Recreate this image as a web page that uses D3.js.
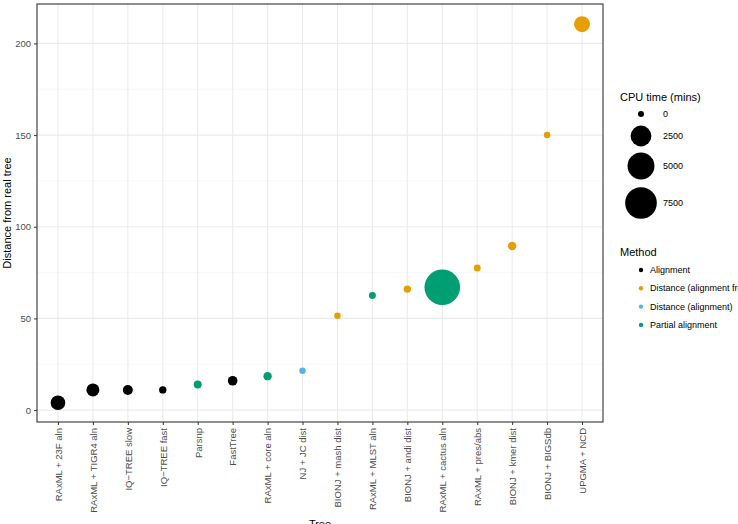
<html>
<head>
<script src="https://d3js.org/d3.v7.min.js"></script>
<style>
  body { margin: 0; background: #fff; }
  svg { font-family: "Liberation Sans", Arial, sans-serif; }
</style>
</head>
<body>
<svg id="svg" width="738" height="524"></svg>
<script>
var trees = ["RAxML + 23F aln", "RAxML + TIGR4 aln", "IQ\u2212TREE slow", "IQ\u2212TREE fast", "Parsnp", "FastTree",
  "RAxML + core aln", "NJ + JC dist", "BIONJ + mash dist", "RAxML + MLST aln", "BIONJ + andi dist",
  "RAxML + cactus aln", "RAxML + pres/abs", "BIONJ + kmer dist", "BIONJ + BIGSdb", "UPGMA + NCD"];
var distances = [4, 11, 11, 11, 14, 16, 18.5, 21.5, 51.5, 62.5, 66, 67, 77.5, 89.5, 150, 210.5];
var cpuTimes = [850, 560, 180, 22, 46, 148, 66, 3, 3, 11, 22, 10000, 11, 66, 3, 1140];
var methods = ["Alignment", "Alignment", "Alignment", "Alignment", "Partial alignment", "Alignment",
  "Partial alignment", "Distance (alignment)", "Distance (alignment free)", "Partial alignment",
  "Distance (alignment free)", "Partial alignment", "Distance (alignment free)", "Distance (alignment free)",
  "Distance (alignment free)", "Distance (alignment free)"];
var methodNames = ["Alignment", "Distance (alignment free)", "Distance (alignment)", "Partial alignment"];
var methodColors = ["#000000", "#E69F00", "#56B4E9", "#009E73"];
var sizeBreaks = [0, 2500, 5000, 7500];
var yTicks = [0, 50, 100, 150, 200];

var svg = d3.select("svg");
var pLeft = 37, pRight = 603, pTop = 4, pBottom = 422;

var x = d3.scalePoint().domain(trees).range([pLeft, pRight]).padding(0.6);
var y = d3.scaleLinear().domain([-6.5, 221.5]).range([pBottom, pTop]);
var r = d3.scaleSqrt().domain([0, 10000]).range([3, 17.8]);
var color = d3.scaleOrdinal().domain(methodNames).range(methodColors);

var data = trees.map(function(t, i) {
  return {tree: t, dist: distances[i], cpu: cpuTimes[i], method: methods[i]};
});

// grid
var grid = svg.append("g");
d3.range(25, 225, 50).forEach(function(v) {
  grid.append("line").attr("x1", pLeft).attr("x2", pRight).attr("y1", y(v)).attr("y2", y(v))
    .attr("stroke", "#f2f2f2").attr("stroke-width", 0.6);
});
yTicks.forEach(function(v) {
  grid.append("line").attr("x1", pLeft).attr("x2", pRight).attr("y1", y(v)).attr("y2", y(v))
    .attr("stroke", "#ebebeb").attr("stroke-width", 1.1);
});
trees.forEach(function(t) {
  grid.append("line").attr("x1", x(t)).attr("x2", x(t)).attr("y1", pTop).attr("y2", pBottom)
    .attr("stroke", "#ebebeb").attr("stroke-width", 1.1);
});

// points
svg.append("g").selectAll("circle").data(data).enter().append("circle")
  .attr("cx", function(d) { return x(d.tree); })
  .attr("cy", function(d) { return y(d.dist); })
  .attr("r", function(d) { return r(d.cpu); })
  .attr("fill", function(d) { return color(d.method); });

// border
svg.append("rect").attr("x", pLeft).attr("y", pTop).attr("width", pRight - pLeft).attr("height", pBottom - pTop)
  .attr("fill", "none").attr("stroke", "#333333").attr("stroke-width", 1.1);

// axes
var yAxis = svg.append("g").attr("transform", "translate(" + pLeft + ",0)")
  .call(d3.axisLeft(y).tickValues(yTicks).tickSize(3).tickPadding(3));
var xAxis = svg.append("g").attr("transform", "translate(0," + pBottom + ")")
  .call(d3.axisBottom(x).tickSize(3).tickPadding(3));
[yAxis, xAxis].forEach(function(a) {
  a.select(".domain").remove();
  a.selectAll(".tick line").attr("stroke", "#333333");
  a.selectAll(".tick text").attr("fill", "#4d4d4d").style("font-size", "9.5px");
});
xAxis.selectAll(".tick text")
  .attr("transform", "rotate(-90)")
  .attr("x", -6).attr("y", 0).attr("dy", "0.35em")
  .attr("text-anchor", "end");

svg.append("text").attr("transform", "translate(11," + ((pTop + pBottom) / 2) + ") rotate(-90)")
  .attr("text-anchor", "middle").style("font-size", "11px").text("Distance from real tree");
svg.append("text").attr("x", (pLeft + pRight) / 2).attr("y", 528)
  .attr("text-anchor", "middle").style("font-size", "11px").text("Tree");

// size legend
var lg = svg.append("g");
lg.append("text").attr("x", 620).attr("y", 101).style("font-size", "11px").text("CPU time (mins)");
var sizeY = [114, 136, 166, 203];
sizeBreaks.forEach(function(v, i) {
  lg.append("circle").attr("cx", 641).attr("cy", sizeY[i]).attr("r", r(v)).attr("fill", "#000");
  lg.append("text").attr("x", 663).attr("y", sizeY[i]).attr("dy", "0.35em")
    .style("font-size", "9px").text(v);
});

// method legend
lg.append("text").attr("x", 620).attr("y", 256).style("font-size", "11px").text("Method");
methodNames.forEach(function(m, i) {
  var yy = 270 + i * 18.3;
  lg.append("circle").attr("cx", 641).attr("cy", yy).attr("r", 2.2).attr("fill", color(m));
  lg.append("text").attr("x", 650).attr("y", yy).attr("dy", "0.35em")
    .style("font-size", "9px").text(m);
});
</script>
</body>
</html>
